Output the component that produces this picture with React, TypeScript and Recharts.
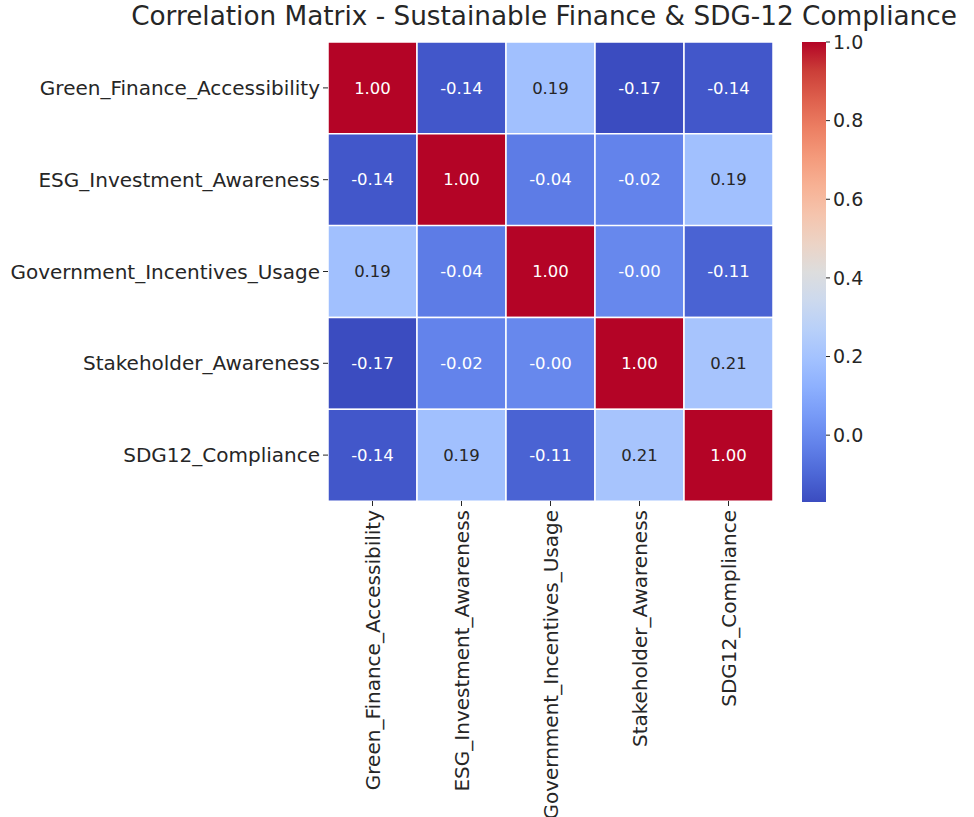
import { BarChart, Bar, XAxis, YAxis, Cell, LabelList } from "recharts";

const variables = [
  "Green_Finance_Accessibility",
  "ESG_Investment_Awareness",
  "Government_Incentives_Usage",
  "Stakeholder_Awareness",
  "SDG12_Compliance",
];

// correlation rows, one per variable (same order as columns)
const greenFinanceRow = [1.0, -0.14, 0.19, -0.17, -0.14];
const esgRow = [-0.14, 1.0, -0.04, -0.02, 0.19];
const govIncentivesRow = [0.19, -0.04, 1.0, -0.004, -0.11];
const stakeholderRow = [-0.17, -0.02, -0.004, 1.0, 0.21];
const sdg12Row = [-0.14, 0.19, -0.11, 0.21, 1.0];

const colorbarTicks = [0.0, 0.2, 0.4, 0.6, 0.8, 1.0];
const vmin = -0.17;
const vmax = 1.0;

const matrix = [greenFinanceRow, esgRow, govIncentivesRow, stakeholderRow, sdg12Row];

// matplotlib coolwarm, sampled every 1/16
const COOLWARM = [
  [0.2298, 0.2987, 0.7537],
  [0.3039, 0.4065, 0.845],
  [0.383, 0.5094, 0.9174],
  [0.4667, 0.6046, 0.9682],
  [0.553, 0.6889, 0.9954],
  [0.6392, 0.7596, 0.9982],
  [0.7222, 0.814, 0.9766],
  [0.7987, 0.8498, 0.9317],
  [0.8654, 0.8654, 0.8654],
  [0.9241, 0.8274, 0.7745],
  [0.9589, 0.7698, 0.678],
  [0.97, 0.6943, 0.5794],
  [0.958, 0.6028, 0.4818],
  [0.9239, 0.4973, 0.388],
  [0.8692, 0.3783, 0.3003],
  [0.7956, 0.2413, 0.2205],
  [0.7057, 0.0156, 0.1502],
];

function coolwarmRgb(t: number) {
  const c = Math.min(1, Math.max(0, t)) * (COOLWARM.length - 1);
  const i = Math.min(COOLWARM.length - 2, Math.floor(c));
  const f = c - i;
  return COOLWARM[i].map((v, k) => v + (COOLWARM[i + 1][k] - v) * f);
}

const toHex = (rgb: number[]) =>
  "#" + rgb.map((v) => Math.round(v * 255).toString(16).padStart(2, "0")).join("");

const norm = (v: number) => (v - vmin) / (vmax - vmin);
const cellColor = (v: number) => toHex(coolwarmRgb(norm(v)));

function textColor(v: number) {
  const lin = coolwarmRgb(norm(v)).map((c) =>
    c <= 0.03928 ? c / 12.92 : Math.pow((c + 0.055) / 1.055, 2.4)
  );
  const lum = 0.2126 * lin[0] + 0.7152 * lin[1] + 0.0722 * lin[2];
  return lum > 0.408 ? "#262626" : "#ffffff";
}

const FONT = "'DejaVu Sans', sans-serif";
const INK = "#262626";

const rows = variables.map((name) => {
  const r: Record<string, number | string> = { name };
  variables.forEach((_, j) => (r[`c${j}`] = 1));
  return r;
});

const colorbarData = [{ name: "cb", range: [vmin, vmax] }];

function XTick({ x, y, payload }: any) {
  return (
    <text
      transform={`translate(${x},${y + 2}) rotate(-90)`}
      textAnchor="end"
      dy="0.36em"
      fontSize={20}
      fontFamily={FONT}
      fill={INK}
    >
      {variables[Math.floor(payload.value)]}
    </text>
  );
}

export default function App() {
  return (
    <div style={{ position: "absolute", left: 0, top: 0, width: 974, height: 817, background: "#fff" }}>
      <div
        style={{
          position: "absolute",
          left: 544,
          top: 1,
          transform: "translateX(-50%)",
          whiteSpace: "nowrap",
          fontFamily: FONT,
          fontSize: 26.3,
          color: INK,
        }}
      >
        Correlation Matrix - Sustainable Finance &amp; SDG-12 Compliance
      </div>

      <div style={{ position: "absolute", left: 0, top: 0 }}>
        <BarChart
          width={974}
          height={817}
          data={rows}
          layout="vertical"
          barCategoryGap={0}
          margin={{ top: 42, right: 201, bottom: 0, left: 0 }}
        >
          <XAxis
            type="number"
            domain={[0, variables.length]}
            ticks={variables.map((_, i) => i + 0.5)}
            height={316}
            axisLine={false}
            tickLine={{ stroke: INK }}
            tickSize={5}
            interval={0}
            tick={<XTick />}
          />
          <YAxis
            type="category"
            dataKey="name"
            width={328}
            axisLine={false}
            tickLine={{ stroke: INK }}
            tickSize={5}
            tickMargin={3}
            interval={0}
            tick={{ fontSize: 20, fontFamily: FONT, fill: INK }}
          />
          {variables.map((_, j) => (
            <Bar key={j} dataKey={`c${j}`} stackId="m" isAnimationActive={false}>
              {matrix.map((row, i) => (
                <Cell key={i} fill={cellColor(row[j])} stroke="#ffffff" strokeWidth={1.5} />
              ))}
              <LabelList
                content={(p: any) => {
                  const v = matrix[p.index][j];
                  return (
                    <text
                      x={p.x + p.width / 2}
                      y={p.y + p.height / 2}
                      textAnchor="middle"
                      dominantBaseline="central"
                      fontSize={16.5}
                      fontFamily={FONT}
                      fill={textColor(v)}
                    >
                      {v.toFixed(2)}
                    </text>
                  );
                }}
              />
            </Bar>
          ))}
        </BarChart>
      </div>

      <div style={{ position: "absolute", left: 790, top: 0 }}>
        <BarChart
          width={120}
          height={817}
          data={colorbarData}
          barCategoryGap={0}
          margin={{ top: 42, right: 24, bottom: 315, left: 12 }}
        >
          <defs>
            <linearGradient id="coolwarmGrad" x1="0" y1="1" x2="0" y2="0">
              {COOLWARM.map((c, i) => (
                <stop key={i} offset={i / (COOLWARM.length - 1)} stopColor={toHex(c)} />
              ))}
            </linearGradient>
          </defs>
          <XAxis dataKey="name" hide />
          <YAxis
            type="number"
            orientation="right"
            domain={[vmin, vmax]}
            ticks={colorbarTicks}
            allowDataOverflow
            width={60}
            axisLine={false}
            tickLine={{ stroke: INK }}
            tickSize={4}
            tickMargin={3}
            interval={0}
            tickFormatter={(v: number) => v.toFixed(1)}
            tick={{ fontSize: 19, fontFamily: FONT, fill: INK, textAnchor: "start" }}
          />
          <Bar dataKey="range" fill="url(#coolwarmGrad)" isAnimationActive={false} />
        </BarChart>
      </div>
    </div>
  );
}
